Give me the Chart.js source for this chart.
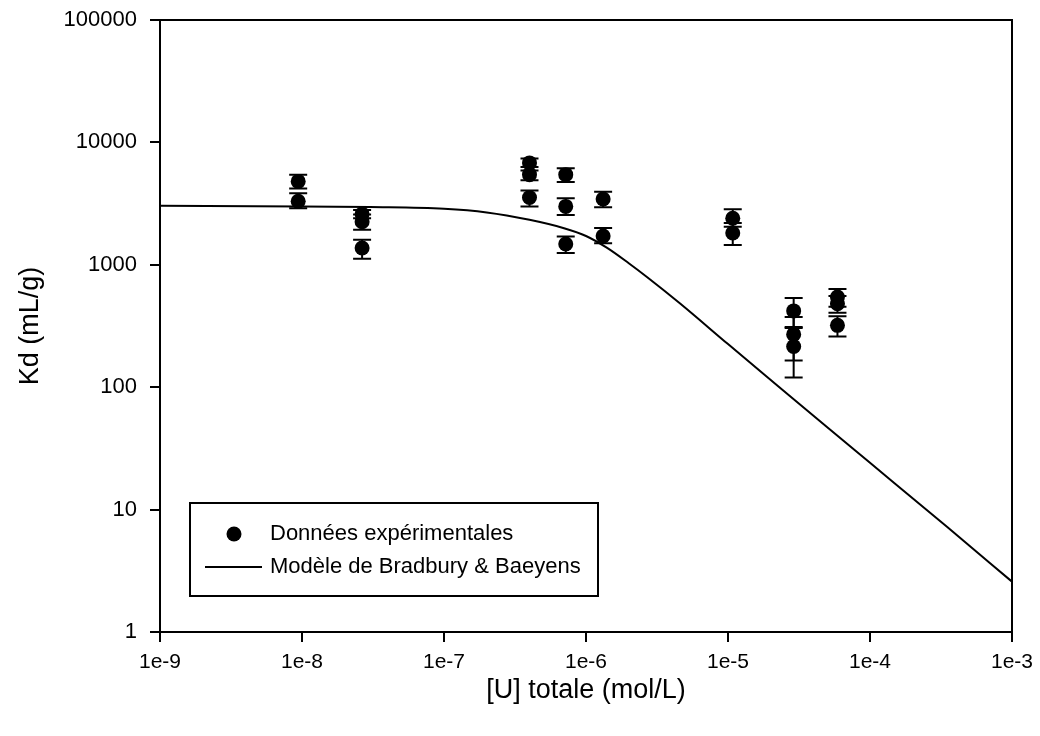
<!DOCTYPE html>
<html lang="fr">
<head>
  <meta charset="UTF-8" />
  <title>Kd en fonction de [U] totale</title>
  <script src="https://cdn.jsdelivr.net/npm/chart.js"></script>
  <style>
body {
  margin: 0;
  background: #ffffff;
}
canvas {
  display: block;
}
  </style>
</head>
<body>
<canvas id="graphKd" width="1040" height="736"></canvas>

<script>
// Données expérimentales : [U] totale (mol/L), Kd (mL/g), bornes des barres d'erreur
const concentrations = [9.4e-9, 9.4e-9, 2.65e-8, 2.65e-8, 2.65e-8, 4e-7, 4e-7, 4e-7, 7.2e-7, 7.2e-7, 7.2e-7,
  1.32e-6, 1.32e-6, 1.08e-5, 1.08e-5, 2.9e-5, 2.9e-5, 2.9e-5, 5.9e-5, 5.9e-5, 5.9e-5];
const kdMesures = [4800, 3300, 2600, 2250, 1370, 6800, 5450, 3550, 5450, 3000, 1480,
  3450, 1720, 2400, 1820, 420, 270, 215, 545, 480, 320];
const kdBas = [4200, 2900, 2400, 1930, 1120, 6300, 4900, 3000, 4750, 2550, 1250,
  2950, 1500, 2050, 1450, 305, 165, 120, 455, 405, 260];
const kdHaut = [5450, 3850, 2800, 2570, 1600, 7400, 5900, 4050, 6150, 3500, 1700,
  3950, 2000, 2850, 2200, 535, 375, 310, 635, 555, 380];

// Modèle de Bradbury & Baeyens
const modeleC = [1e-9, 1e-8, 3e-8, 1e-7, 2e-7, 4e-7, 7e-7, 1e-6, 1.4e-6, 2e-6, 2.7e-6, 4.6e-6,
  1e-5, 2.3e-5, 5e-5, 1e-4, 3.5e-4, 1e-3];
const modeleKd = [3030, 3000, 2960, 2870, 2680, 2330, 1990, 1720, 1380, 1030, 792, 483,
  225, 100, 47, 24.1, 7.2, 2.58];

// Graduations
const xTicks = [1e-9, 1e-8, 1e-7, 1e-6, 1e-5, 1e-4, 1e-3];
const yTicks = [1, 10, 100, 1000, 10000, 100000];

const POLICE = "'Liberation Sans', Arial, sans-serif";

// barres d'erreur verticales avec chapeaux
const barresErreur = {
  id: 'barresErreur',
  beforeDatasetsDraw(chart) {
    const { ctx, scales: { x, y } } = chart;
    ctx.save();
    ctx.strokeStyle = '#000';
    ctx.lineWidth = 2;
    for (let i = 0; i < concentrations.length; i++) {
      const px = x.getPixelForValue(concentrations[i]);
      const yb = y.getPixelForValue(kdBas[i]);
      const yh = y.getPixelForValue(kdHaut[i]);
      ctx.beginPath();
      ctx.moveTo(px, yb);
      ctx.lineTo(px, yh);
      ctx.moveTo(px - 9, yb);
      ctx.lineTo(px + 9, yb);
      ctx.moveTo(px - 9, yh);
      ctx.lineTo(px + 9, yh);
      ctx.stroke();
    }
    ctx.restore();
  }
};

// cadre + légende dans la zone du graphique
const cadreLegende = {
  id: 'cadreLegende',
  afterDraw(chart) {
    const { ctx, chartArea: a } = chart;
    ctx.save();
    ctx.strokeStyle = '#000';
    ctx.lineWidth = 2;
    ctx.strokeRect(a.left, a.top, a.right - a.left, a.bottom - a.top);

    // boîte de légende
    const bx = a.left + 30, by = a.bottom - 129, bw = 408, bh = 93;
    ctx.strokeRect(bx, by, bw, bh);

    ctx.fillStyle = '#000';
    ctx.beginPath();
    ctx.arc(bx + 44, by + 31, 7.5, 0, Math.PI * 2);
    ctx.fill();

    ctx.beginPath();
    ctx.moveTo(bx + 15, by + 64);
    ctx.lineTo(bx + 72, by + 64);
    ctx.stroke();

    ctx.font = '22px ' + POLICE;
    ctx.textBaseline = 'middle';
    ctx.textAlign = 'left';
    ctx.fillText('Données expérimentales', bx + 80, by + 31);
    ctx.fillText('Modèle de Bradbury & Baeyens', bx + 80, by + 64);
    ctx.restore();
  }
};

const ctx = document.getElementById('graphKd').getContext('2d');

new Chart(ctx, {
  type: 'scatter',
  data: {
    datasets: [
      {
        label: 'Données expérimentales',
        data: concentrations.map((c, i) => ({ x: c, y: kdMesures[i] })),
        backgroundColor: '#000',
        borderWidth: 0,
        pointRadius: 7.5,
        pointHoverRadius: 7.5
      },
      {
        label: 'Modèle de Bradbury & Baeyens',
        data: modeleC.map((c, i) => ({ x: c, y: modeleKd[i] })),
        showLine: true,
        borderColor: '#000',
        borderWidth: 2,
        pointRadius: 0,
        cubicInterpolationMode: 'monotone'
      }
    ]
  },
  options: {
    responsive: false,
    animation: false,
    layout: { padding: { top: 20, right: 28, left: 0, bottom: 0 } },
    plugins: {
      legend: { display: false },
      tooltip: { enabled: false }
    },
    scales: {
      x: {
        type: 'logarithmic',
        min: 1e-9,
        max: 1e-3,
        afterBuildTicks: (s) => { s.ticks = xTicks.map(v => ({ value: v })); },
        afterFit: (s) => { s.height = 104; s.paddingLeft = 0; s.paddingRight = 0; },
        ticks: {
          color: '#000',
          font: { family: POLICE, size: 21 },
          padding: 8,
          maxRotation: 0,
          autoSkip: false,
          callback: (v) => '1e' + Math.round(Math.log10(v))
        },
        grid: { drawOnChartArea: false, drawTicks: true, tickLength: 10, color: '#000', lineWidth: 2 },
        border: { color: '#000', width: 2 },
        title: {
          display: true,
          text: '[U] totale (mol/L)',
          color: '#000',
          font: { family: POLICE, size: 27 },
          padding: { top: 0, bottom: 29 }
        }
      },
      y: {
        type: 'logarithmic',
        min: 1,
        max: 100000,
        afterBuildTicks: (s) => { s.ticks = yTicks.map(v => ({ value: v })); },
        afterFit: (s) => { s.width = 160; s.paddingTop = 0; s.paddingBottom = 0; },
        ticks: {
          color: '#000',
          font: { family: POLICE, size: 22 },
          padding: 13,
          autoSkip: false,
          callback: (v) => String(v)
        },
        grid: { drawOnChartArea: false, drawTicks: true, tickLength: 10, color: '#000', lineWidth: 2 },
        border: { color: '#000', width: 2 },
        title: {
          display: true,
          text: 'Kd (mL/g)',
          color: '#000',
          font: { family: POLICE, size: 27 },
          padding: { top: 14, bottom: 0 }
        }
      }
    }
  },
  plugins: [barresErreur, cadreLegende]
});
</script>
</body>
</html>
